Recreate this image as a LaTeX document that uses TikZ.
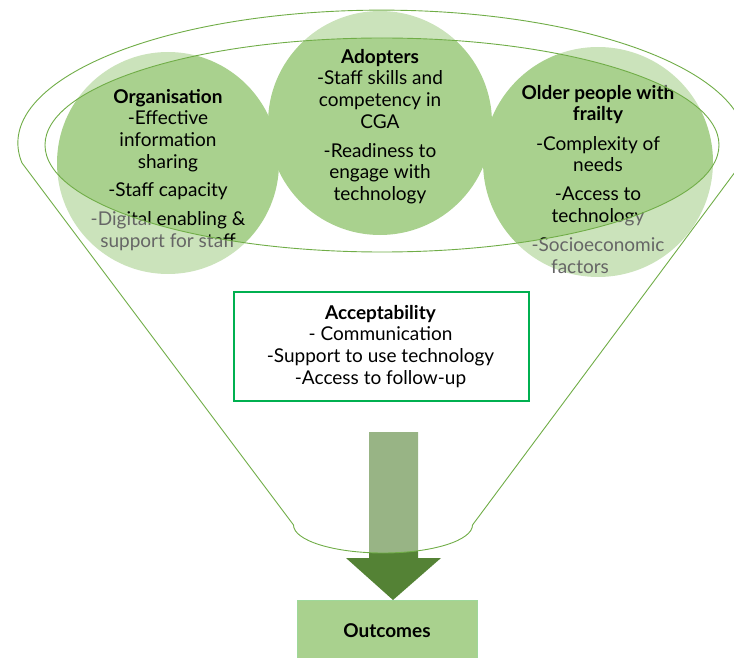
\documentclass[tikz,border=0pt]{standalone}
\usepackage{fontspec}
\setmainfont{Lato}
\definecolor{leaf}{HTML}{A9D18E}
\definecolor{rim}{HTML}{70AD47}
\definecolor{deep}{HTML}{548235}
\definecolor{boxline}{HTML}{00B050}
\definecolor{outline}{HTML}{9ED89A}
\begin{document}
\begin{tikzpicture}[x=1pt,y=-1pt,
  body/.style={font=\fontsize{19}{21.6}\selectfont, align=center, inner sep=0pt, anchor=north, text=black},
  bubble/.style={fill=leaf, draw=none},
  rimline/.style={draw=rim, line width=0.9pt}]
\useasboundingbox (0,0) rectangle (734,658);
\clip (0,0) rectangle (734,658);

% the three themes
\fill[bubble] (168,163) circle (111);
\fill[bubble] (380,123) circle (112);
\fill[bubble] (598,162) circle (115);

\node[body] (org) at (168,89) {\textbf{Organisation}\\-Effective\\information\\sharing\\[7pt]-Staff capacity\\[7.5pt]-Digital enabling \&\\support for staff};
\node[body] (adopt) at (380,49) {\textbf{Adopters}\\-Staff skills and\\competency in\\CGA\\[7.5pt]-Readiness to\\engage with\\technology};
\node[body] (older) at (598,85) {\textbf{Older people with}\\\textbf{frailty}\\[7.5pt]-Complexity of\\needs\\[7.5pt]-Access to\\technology\\[7.5pt]-Socioeconomic\\factors\hspace*{36pt}};

% arrow into the outcomes
\fill[deep] (369,432) -- (418,432) -- (418,558) -- (441,558) -- (393,600)
  -- (346,558) -- (369,558) -- cycle;

% funnel body, lightened outside its opening
\coordinate (fl) at (22,163);
\coordinate (fr) at (742,163);
\coordinate (bl) at (293.5,525);
\coordinate (br) at (472.5,525);
\fill[white, opacity=0.4, even odd rule]
  (fl) arc[start angle=171.4, end angle=368.6, x radius=364, y radius=133]
  -- (br) arc[start angle=0, end angle=180, x radius=89.5, y radius=28] -- cycle
  (382,145) ellipse[x radius=337, y radius=107];
\draw[rimline]
  (fl) arc[start angle=171.4, end angle=368.6, x radius=364, y radius=133]
  -- (br) arc[start angle=0, end angle=180, x radius=89.5, y radius=28] -- cycle;
\draw[rimline] (382,145) ellipse[x radius=337, y radius=107];

% acceptability
\node[draw=boxline, line width=1.6pt, fill=white, minimum width=295, minimum height=109, anchor=north west] (acc) at (233,291) {};
\node[body] (acctext) at (380.5,305) {\textbf{Acceptability}\\- Communication\\-Support to use technology\\-Access to follow-up};

% outcomes
\node[fill=leaf, draw=outline, line width=0.8pt, minimum width=180, minimum height=70, anchor=north west] (out) at (297,600) {};
\node[body, anchor=base] (outtext) at (387,637) {\textbf{Outcomes}};
\end{tikzpicture}
\end{document}
